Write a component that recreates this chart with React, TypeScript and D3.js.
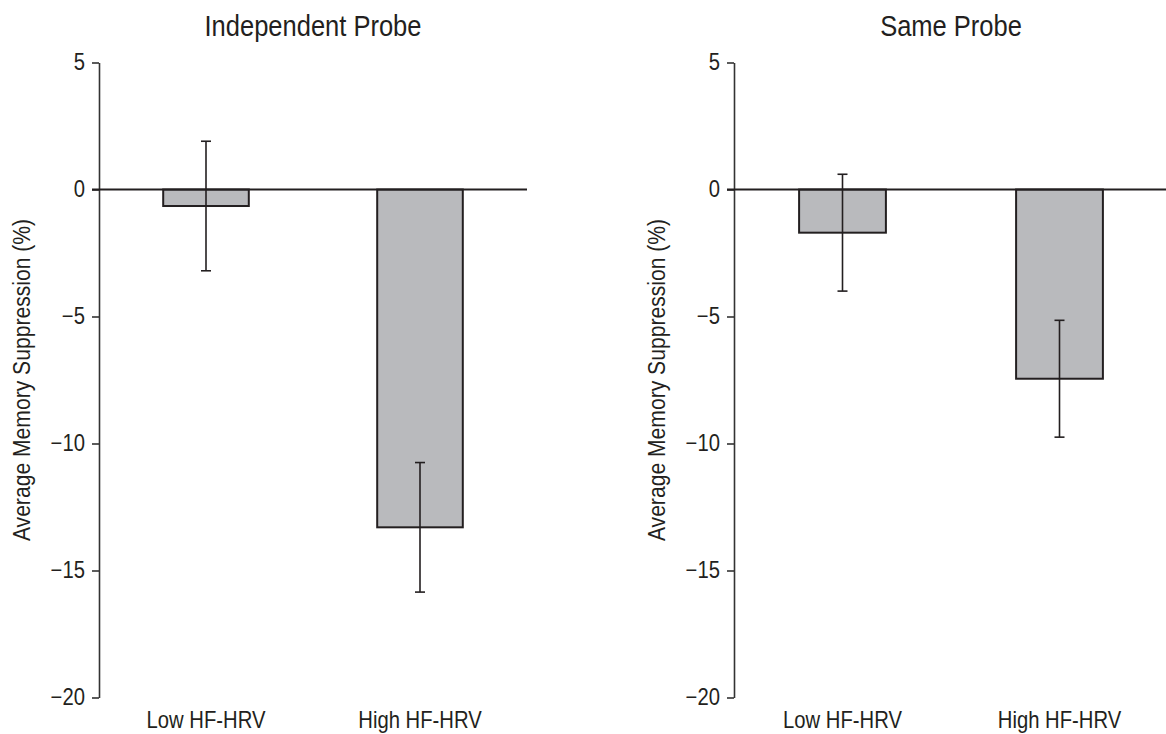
import React, { useRef, useEffect } from "react";
import * as d3 from "d3";

const categories = ["Low HF-HRV", "High HF-HRV"];
const panelTitles = ["Independent Probe", "Same Probe"];
const independentMeans = [-0.65, -13.3];
const independentErrors = [2.55, 2.55];
const sameMeans = [-1.7, -7.45];
const sameErrors = [2.3, 2.3];
const yTicks = [5, 0, -5, -10, -15, -20];
const yLabel = "Average Memory Suppression (%)";

const FONT = "'Liberation Sans Narrow', 'Arial Narrow', 'Liberation Sans', Arial, sans-serif";
const INK = "#231f20";
const SQUEEZE = 0.88; // condensed look, the figure uses a narrow face

function App() {
  const svgRef = useRef<SVGSVGElement>(null);

  useEffect(() => {
    const svg = d3.select(svgRef.current);
    svg.selectAll("*").remove();

    const y = d3.scaleLinear().domain([-20, 5]).range([697.5, 62.5]);

    const panels = [
      { title: panelTitles[0], means: independentMeans, errors: independentErrors, left: 99, right: 527 },
      { title: panelTitles[1], means: sameMeans, errors: sameErrors, left: 734, right: 1168 },
    ];

    panels.forEach((p) => {
      const x = d3
        .scaleBand()
        .domain(categories)
        .range([p.left, p.right])
        .paddingInner(0.6)
        .paddingOuter(0.3);

      const g = svg.append("g");

      // panel title
      g.append("text")
        .attr("transform", `translate(${(p.left + p.right) / 2},36) scale(${SQUEEZE},1)`)
        .attr("text-anchor", "middle")
        .attr("font-family", FONT)
        .attr("font-size", 29)
        .attr("fill", INK)
        .text(p.title);

      // y axis
      const axis = g
        .append("g")
        .attr("transform", `translate(${p.left},0)`)
        .call(
          d3
            .axisLeft(y)
            .tickValues(yTicks)
            .tickSize(7)
            .tickSizeOuter(0)
            .tickPadding(9)
            .tickFormat(d3.format("d") as any)
        );
      axis.selectAll("path, line").attr("stroke", "#333").attr("stroke-width", 1.6);
      axis
        .selectAll("text")
        .attr("transform", `scale(${SQUEEZE},1)`)
        .attr("font-family", FONT)
        .attr("font-size", 23)
        .attr("fill", INK);

      // y label
      g.append("text")
        .attr("transform", `translate(${p.left - 69},380) rotate(-90) scale(${SQUEEZE},1)`)
        .attr("text-anchor", "middle")
        .attr("font-family", FONT)
        .attr("font-size", 24)
        .attr("fill", INK)
        .text(yLabel);

      const data = categories.map((c, i) => ({ c, mean: p.means[i], err: p.errors[i] }));

      // bars
      g.append("g")
        .selectAll("rect")
        .data(data)
        .join("rect")
        .attr("x", (d) => x(d.c)!)
        .attr("y", (d) => y(Math.max(0, d.mean)))
        .attr("width", x.bandwidth())
        .attr("height", (d) => Math.abs(y(d.mean) - y(0)))
        .attr("fill", "#b9babd")
        .attr("stroke", INK)
        .attr("stroke-width", 2);

      // zero line
      g.append("line")
        .attr("x1", p.left - 7)
        .attr("x2", p.right)
        .attr("y1", y(0))
        .attr("y2", y(0))
        .attr("stroke", INK)
        .attr("stroke-width", 2);

      // error bars
      const eb = g.append("g").attr("stroke", INK).attr("stroke-width", 1.6);
      const cx = (d: any) => x(d.c)! + x.bandwidth() / 2;
      eb.selectAll("line.v")
        .data(data)
        .join("line")
        .attr("class", "v")
        .attr("x1", cx)
        .attr("x2", cx)
        .attr("y1", (d) => y(d.mean + d.err))
        .attr("y2", (d) => y(d.mean - d.err));
      eb.selectAll("line.top")
        .data(data)
        .join("line")
        .attr("class", "top")
        .attr("x1", (d) => cx(d) - 5)
        .attr("x2", (d) => cx(d) + 5)
        .attr("y1", (d) => y(d.mean + d.err))
        .attr("y2", (d) => y(d.mean + d.err));
      eb.selectAll("line.bot")
        .data(data)
        .join("line")
        .attr("class", "bot")
        .attr("x1", (d) => cx(d) - 5)
        .attr("x2", (d) => cx(d) + 5)
        .attr("y1", (d) => y(d.mean - d.err))
        .attr("y2", (d) => y(d.mean - d.err));

      // category labels
      g.append("g")
        .selectAll("text")
        .data(categories)
        .join("text")
        .attr("transform", (c) => `translate(${x(c)! + x.bandwidth() / 2},728) scale(${SQUEEZE},1)`)
        .attr("text-anchor", "middle")
        .attr("font-family", FONT)
        .attr("font-size", 23)
        .attr("fill", INK)
        .text((c) => c);
    });
  }, []);

  return (
    <svg
      ref={svgRef}
      width={1166}
      height={734}
      style={{ position: "absolute", left: 0, top: 0, background: "#fff" }}
    ></svg>
  );
}

export default App;
